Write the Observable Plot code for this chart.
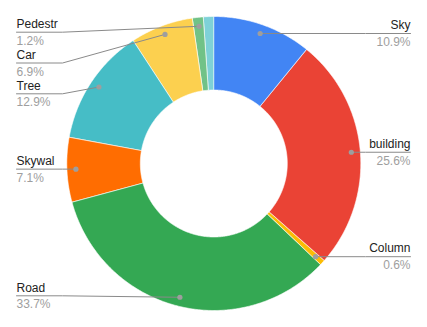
<!DOCTYPE html>
<html>
<head>
<meta charset="utf-8">
<script src="https://cdn.jsdelivr.net/npm/d3@7"></script>
<script src="https://cdn.jsdelivr.net/npm/@observablehq/plot@0.6"></script>
<style>
  html, body { margin: 0; padding: 0; background: #fff; }
  #chart { width: 427px; height: 327px; }
</style>
</head>
<body>
<div id="chart"></div>
<script>
// ---- data ----
const categories = ["Sky", "building", "Column", "Road", "Skywal", "Tree", "Car", "Pedestr", "Bicyclist"];
const values     = [10.9, 25.6, 0.6, 33.7, 7.1, 12.9, 6.9, 1.2, 1.1];
const colors     = ["#4285F4", "#EA4335", "#FBBC04", "#34A853", "#FF6D01", "#46BDC6", "#FCD04F", "#71C287", "#7ED1D7"];
const unlabeled  = ["Bicyclist"];

// ---- layout ----
const W = 427, H = 327;
const cx = 213.3, cy = 163, R = 147, Rin = 73.5, Rdot = 138;
const leftX = 16, rightX = 410, leftKink = 62, rightKink = 365;
const topY = 31.7, botY = 295.3, gap = 30.8;
const font = "Arial, 'Liberation Sans', sans-serif";

const total = d3.sum(values);
const pie = d3.pie().sort(null).value(d => d.value).startAngle(0).endAngle(2 * Math.PI);
const arcs = pie(categories.map((c, i) => ({cat: c, value: values[i]})));

const px = (r, a) => cx + r * Math.sin(a);
const py = (r, a) => cy - r * Math.cos(a);

// slice polygons
const slicePts = [];
for (const a of arcs) {
  const n = Math.max(2, Math.ceil((a.endAngle - a.startAngle) / (Math.PI / 360)));
  for (let k = 0; k <= n; k++) {
    const t = a.startAngle + (a.endAngle - a.startAngle) * k / n;
    slicePts.push({cat: a.data.cat, x: px(R, t), y: py(R, t)});
  }
  for (let k = n; k >= 0; k--) {
    const t = a.startAngle + (a.endAngle - a.startAngle) * k / n;
    slicePts.push({cat: a.data.cat, x: px(Rin, t), y: py(Rin, t)});
  }
}

// labels
const labels = arcs.filter(a => !unlabeled.includes(a.data.cat)).map(a => {
  const m = (a.startAngle + a.endAngle) / 2;
  const dx = px(Rdot, m), dy = py(Rdot, m);
  return {cat: a.data.cat, value: a.data.value, dx, dy, side: dx < cx ? "left" : "right", ly: dy};
});
for (const side of ["left", "right"]) {
  const s = labels.filter(l => l.side === side).sort((a, b) => a.dy - b.dy);
  let prev = -Infinity;
  for (const l of s) { l.ly = Math.max(l.dy, prev + gap, topY); prev = l.ly; }
  let next = Infinity;
  for (let i = s.length - 1; i >= 0; i--) { s[i].ly = Math.min(s[i].ly, next - gap, botY); next = s[i].ly; }
}
const linePts = [];
for (const l of labels) {
  const ex = l.side === "left" ? leftX : rightX;
  const kx = l.side === "left" ? Math.min(leftKink, l.dx) : Math.max(rightKink, l.dx);
  linePts.push({cat: l.cat, x: ex, y: l.ly}, {cat: l.cat, x: kx, y: l.ly}, {cat: l.cat, x: l.dx, y: l.dy});
}
const L = labels.filter(l => l.side === "left");
const Rt = labels.filter(l => l.side === "right");
const pct = l => (l.value / total * 100).toFixed(1) + "%";

const chart = Plot.plot({
  width: W, height: H, margin: 0,
  x: {domain: [0, W], range: [0, W], axis: null},
  y: {domain: [0, H], range: [0, H], axis: null},
  color: {domain: categories, range: colors},
  style: {background: "#fff", fontFamily: font},
  marks: [
    Plot.line(slicePts, {x: "x", y: "y", z: "cat", fill: "cat", stroke: "#fff", strokeWidth: 0.6, curve: "linear-closed"}),
    Plot.line(linePts, {x: "x", y: "y", z: "cat", stroke: "#8a8a8a", strokeWidth: 1}),
    Plot.dot(labels, {x: "dx", y: "dy", r: 2.6, fill: "#9e9e9e", stroke: null}),
    Plot.text(L, {x: () => leftX, y: d => d.ly - 8.1, text: "cat", textAnchor: "start", fontSize: 12, fill: "#222", fontFamily: font}),
    Plot.text(L, {x: () => leftX, y: d => d.ly + 8.8, text: pct, textAnchor: "start", fontSize: 12, fill: "#9e9e9e", fontFamily: font}),
    Plot.text(Rt, {x: () => rightX, y: d => d.ly - 8.1, text: "cat", textAnchor: "end", fontSize: 12, fill: "#222", fontFamily: font}),
    Plot.text(Rt, {x: () => rightX, y: d => d.ly + 8.8, text: pct, textAnchor: "end", fontSize: 12, fill: "#9e9e9e", fontFamily: font})
  ]
});
document.getElementById("chart").appendChild(chart);
</script>
</body>
</html>
